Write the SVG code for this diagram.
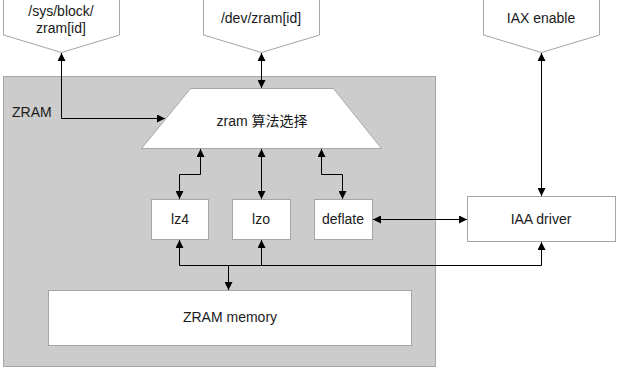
<svg xmlns="http://www.w3.org/2000/svg" width="620" height="371" viewBox="0 0 620 371">
<defs>
<style>
.shape{fill:#fff;stroke:#a6a6a6;stroke-width:1}
.cont{fill:#cccccc;stroke:#a6a6a6;stroke-width:1}
.lbl{font-family:"Liberation Sans","Noto Sans CJK SC",Arial,sans-serif;font-size:14px;fill:#1a1a1a;text-anchor:middle}
.conn{fill:none;stroke:#000;stroke-width:1}
</style>
<marker id="ah" markerUnits="userSpaceOnUse" markerWidth="8" markerHeight="8" refX="7" refY="3.5" orient="auto-start-reverse" viewBox="0 0 7 7">
<path d="M0,0 L7,3.5 L0,7 z" fill="#000"/>
</marker>
</defs>
<rect width="620" height="371" fill="#fff"/>
<g id="zram">
<rect class="cont" x="3.5" y="76.5" width="432" height="290"/>
<text class="lbl" x="12" y="117" style="text-anchor:start">ZRAM</text>
</g>
<g id="sysblock">
<polygon class="shape" points="3.5,-5 119.5,-5 119.5,35 61.5,52.5 3.5,35"/>
<text class="lbl" x="61" y="16">/sys/block/</text>
<text class="lbl" x="61" y="33">zram[id]</text>
</g>
<g id="devzram">
<polygon class="shape" points="203.5,-5 319.5,-5 319.5,35 261.5,52.5 203.5,35"/>
<text class="lbl" x="261" y="23">/dev/zram[id]</text>
</g>
<g id="iaxenable">
<polygon class="shape" points="483.5,-5 599.5,-5 599.5,35 541.5,52.5 483.5,35"/>
<text class="lbl" x="541" y="23">IAX enable</text>
</g>
<g id="select">
<polygon class="shape" points="190.5,88.5 333.5,88.5 381.5,148.5 141.5,148.5"/>
<text class="lbl" x="262" y="126">zram 算法选择</text>
</g>
<g id="lz4">
<rect class="shape" x="151.5" y="199.5" width="57" height="40"/>
<text class="lbl" x="180" y="224">lz4</text>
</g>
<g id="lzo">
<rect class="shape" x="232.5" y="199.5" width="58" height="40"/>
<text class="lbl" x="261" y="224">lzo</text>
</g>
<g id="deflate">
<rect class="shape" x="314.5" y="199.5" width="58" height="40"/>
<text class="lbl" x="343" y="224">deflate</text>
</g>
<g id="iaadriver">
<rect class="shape" x="467.5" y="196.5" width="148" height="45"/>
<text class="lbl" x="541" y="224">IAA driver</text>
</g>
<g id="memory">
<rect class="shape" x="48.5" y="290.5" width="363" height="55"/>
<text class="lbl" x="230" y="322">ZRAM memory</text>
</g>
<g id="connectors">
<path class="conn" d="M61.5,53 V118.5 H165" marker-start="url(#ah)" marker-end="url(#ah)"/>
<path class="conn" d="M261.5,53 V88" marker-start="url(#ah)" marker-end="url(#ah)"/>
<path class="conn" d="M541.5,53 V196" marker-start="url(#ah)" marker-end="url(#ah)"/>
<path class="conn" d="M200.5,149 V174.5 H179.5 V199" marker-start="url(#ah)" marker-end="url(#ah)"/>
<path class="conn" d="M261.5,149 V199" marker-start="url(#ah)" marker-end="url(#ah)"/>
<path class="conn" d="M321.5,149 V174.5 H342.5 V199" marker-start="url(#ah)" marker-end="url(#ah)"/>
<path class="conn" d="M373,219.5 H467" marker-start="url(#ah)" marker-end="url(#ah)"/>
<path class="conn" d="M179.5,240 V265.5 H541.5 V242" marker-start="url(#ah)" marker-end="url(#ah)"/>
<path class="conn" d="M261.5,240 V265.5" marker-start="url(#ah)"/>
<path class="conn" d="M228.5,265.5 V290" marker-end="url(#ah)"/>
</g>
</svg>
